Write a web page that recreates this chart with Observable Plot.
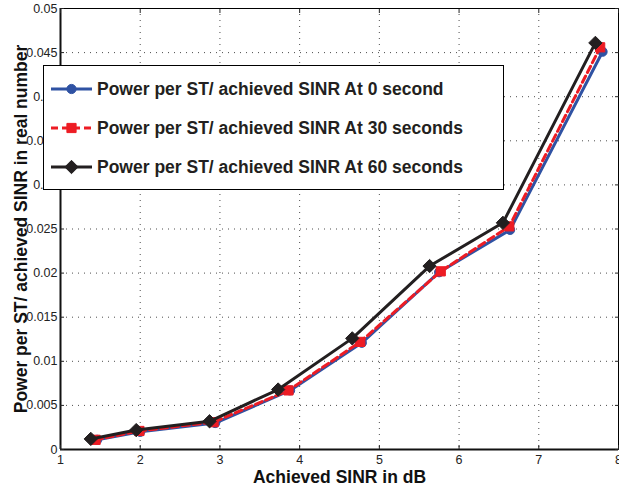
<!DOCTYPE html>
<html>
<head>
<meta charset="utf-8">
<script src="https://cdn.jsdelivr.net/npm/d3@7"></script>
<script src="https://cdn.jsdelivr.net/npm/@observablehq/plot@0.6"></script>
<style>
  html, body { margin: 0; padding: 0; background: #fff; }
  #wrap { position: relative; width: 619px; height: 488px; overflow: hidden; }
  #legend { position: absolute; left: 43px; top: 65px; }
</style>
</head>
<body>
<div id="wrap"></div>
<script>
// ---- data ----
const seriesNames = [
  "Power per ST/ achieved SINR At 0 second",
  "Power per ST/ achieved SINR At 30 seconds",
  "Power per ST/ achieved SINR At 60 seconds"
];
const sinr0   = [1.46, 2.00, 2.94, 3.88, 4.78, 5.75, 6.64, 7.80];
const power0  = [0.0011, 0.0020, 0.0030, 0.0067, 0.0121, 0.0201, 0.0249, 0.0451];
const sinr30  = [1.44, 1.99, 2.92, 3.86, 4.76, 5.77, 6.63, 7.77];
const power30 = [0.0011, 0.0021, 0.0031, 0.0067, 0.0122, 0.0202, 0.0253, 0.0456];
const sinr60  = [1.38, 1.95, 2.87, 3.73, 4.66, 5.63, 6.55, 7.71];
const power60 = [0.0012, 0.0022, 0.0032, 0.0068, 0.0126, 0.0208, 0.0257, 0.0461];
const xTicks = [1, 2, 3, 4, 5, 6, 7, 8];
const yTicks = [0, 0.005, 0.01, 0.015, 0.02, 0.025, 0.03, 0.035, 0.04, 0.045, 0.05];
const xLabel = "Achieved SINR in dB";
const yLabel = "Power per ST/ achieved SINR in real number";

// ---- styles ----
const colors = ["#2F52A3", "#ED1C24", "#231F20"];
const symbols = ["circle", "square", "diamond2"];
const radii = [4.6, 5.2, 6.0];
const dashes = [null, "7,4", null];
const FONT = "'Liberation Sans', Arial, Helvetica, sans-serif";

const toRows = (xs, ys) => xs.map((x, i) => ({x, y: ys[i]}));
const series = [toRows(sinr0, power0), toRows(sinr30, power30), toRows(sinr60, power60)];

const yFmt = d => d === 0 ? "0" : String(+d.toFixed(3));
const grid = {stroke: "#000", strokeOpacity: 0.7, strokeDasharray: "1,5", strokeWidth: 1};

const marks = [
  Plot.gridX(xTicks.slice(1, -1), grid),
  Plot.gridY(yTicks.slice(1, -1), grid),
  Plot.frame({stroke: "#000", strokeWidth: 1}),
  Plot.ruleY([0], {stroke: "#111", strokeWidth: 2}),
  Plot.ruleX([1], {stroke: "#111", strokeWidth: 2}),
  Plot.axisX(xTicks, {anchor: "bottom", tickSize: -4, tickPadding: 10, label: null, tickFormat: d => String(d), fontSize: 12.5, fill: "#222"}),
  Plot.axisX(xTicks, {anchor: "top", tickSize: -4, label: null, tickFormat: () => ""}),
  Plot.axisY(yTicks, {anchor: "left", tickSize: -4, tickPadding: 7, label: null, tickFormat: yFmt, fontSize: 12.5, fill: "#222"}),
  Plot.axisY(yTicks, {anchor: "right", tickSize: -4, label: null, tickFormat: () => ""})
];
series.forEach((rows, i) => {
  marks.push(Plot.line(rows, {x: "x", y: "y", stroke: colors[i], strokeWidth: 3, strokeDasharray: dashes[i]}));
  marks.push(Plot.dot(rows, {x: "x", y: "y", symbol: () => symbols[i], r: radii[i], fill: colors[i], stroke: colors[i], strokeWidth: 1}));
});
marks.push(Plot.text([xLabel], {text: d => d, frameAnchor: "bottom", textAnchor: "middle", dy: 33, lineAnchor: "bottom", fontSize: 17.5, fontWeight: "bold", fill: "#111"}));
marks.push(Plot.text([yLabel], {text: d => d, frameAnchor: "left", textAnchor: "middle", rotate: -90, dx: -39, lineAnchor: "middle", fontSize: 17.5, fontWeight: "bold", fill: "#111"}));

const chart = Plot.plot({
  width: 619,
  height: 488,
  marginLeft: 60,
  marginRight: 1,
  marginTop: 8,
  marginBottom: 39,
  style: {fontFamily: FONT, fontSize: "12.5px", background: "#fff", color: "#222", overflow: "visible"},
  x: {domain: [1, 8]},
  y: {domain: [0, 0.05]},
  marks
});
document.getElementById("wrap").appendChild(chart);

// ---- legend (SVG overlay inside the axes) ----
const ns = "http://www.w3.org/2000/svg";
const lw = 461, lh = 125;
const leg = document.createElementNS(ns, "svg");
leg.setAttribute("id", "legend");
leg.setAttribute("width", lw);
leg.setAttribute("height", lh);
const bg = document.createElementNS(ns, "rect");
bg.setAttribute("x", 0.5); bg.setAttribute("y", 0.5);
bg.setAttribute("width", lw - 1); bg.setAttribute("height", lh - 1);
bg.setAttribute("fill", "#fff"); bg.setAttribute("stroke", "#000"); bg.setAttribute("stroke-width", 1);
leg.appendChild(bg);
const rowY = [24, 63, 102];
seriesNames.forEach((name, i) => {
  const y = rowY[i];
  const ln = document.createElementNS(ns, "line");
  ln.setAttribute("x1", 8); ln.setAttribute("x2", 49);
  ln.setAttribute("y1", y); ln.setAttribute("y2", y);
  ln.setAttribute("stroke", colors[i]); ln.setAttribute("stroke-width", 3);
  if (dashes[i]) ln.setAttribute("stroke-dasharray", dashes[i]);
  leg.appendChild(ln);
  const sym = d3.symbol().type(
    symbols[i] === "circle" ? d3.symbolCircle : symbols[i] === "square" ? d3.symbolSquare : d3.symbolDiamond2
  ).size(Math.PI * radii[i] * radii[i]);
  const p = document.createElementNS(ns, "path");
  p.setAttribute("d", sym());
  p.setAttribute("transform", `translate(28.5,${y})`);
  p.setAttribute("fill", colors[i]); p.setAttribute("stroke", colors[i]);
  leg.appendChild(p);
  const t = document.createElementNS(ns, "text");
  t.setAttribute("x", 54); t.setAttribute("y", y + 6);
  t.setAttribute("font-family", FONT); t.setAttribute("font-size", 17.5);
  t.setAttribute("font-weight", "bold"); t.setAttribute("fill", "#231F20");
  t.textContent = name;
  leg.appendChild(t);
});
document.getElementById("wrap").appendChild(leg);
</script>
</body>
</html>
